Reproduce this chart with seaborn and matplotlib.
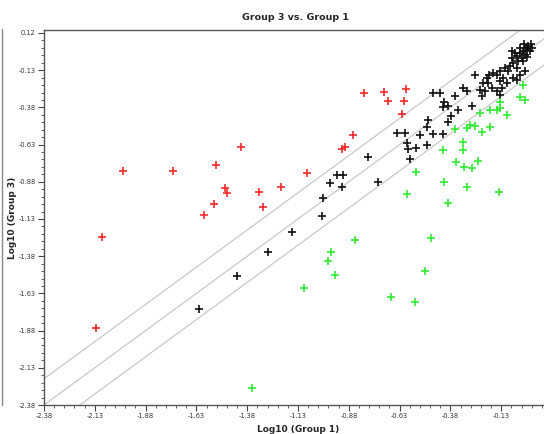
import numpy as np
import pandas as pd
import matplotlib
matplotlib.use("Agg")
import matplotlib.pyplot as plt
from matplotlib.lines import Line2D
from matplotlib.ticker import FixedLocator, MultipleLocator
import seaborn as sns

# ---- data (log10 values) ----
up_x = [-2.124, -2.095, -1.991, -1.745, -1.593, -1.543, -1.534, -1.489, -1.479, -1.411,
        -1.322, -1.302, -1.214, -1.086, -0.913, -0.899, -0.859, -0.805, -0.707, -0.599,
        -0.687, -0.608, -0.618]
up_y = [-1.863, -1.251, -0.807, -0.807, -1.103, -1.029, -0.767, -0.922, -0.955, -0.646,
        -0.949, -1.049, -0.915, -0.821, -0.660, -0.646, -0.565, -0.283, -0.277, -0.256,
        -0.337, -0.337, -0.424]

same_x = [-1.617, -1.430, -1.278, -1.160, -1.012, -1.007, -0.973, -0.938, -0.909, -0.913,
          -0.786, -0.736, -0.643, -0.603, -0.594, -0.589, -0.549, -0.579, -0.530, -0.495,
          -0.490, -0.495, -0.466, -0.416, -0.466, -0.431, -0.411, -0.416, -0.392, -0.377,
          -0.392, -0.343, -0.274, -0.357, -0.318, -0.298, -0.234, -0.210, -0.224, -0.136,
          -0.175, -0.151, -0.126, -0.220, -0.195, -0.136, -0.101, -0.259, -0.200, -0.190,
          -0.170, -0.151, -0.136, -0.121, -0.072, -0.052, -0.037, -0.013, -0.097, -0.111,
          -0.087, -0.052, -0.072, -0.047, -0.023, -0.077, -0.052, -0.028, -0.003, -0.013,
          -0.037, -0.023, -0.003, 0.002, 0.012, -0.077, 0.017, -0.008, -0.037, -0.062,
          0.022, -0.018]
same_y = [-1.735, -1.513, -1.352, -1.217, -1.110, -0.989, -0.888, -0.834, -0.834, -0.915,
          -0.713, -0.881, -0.552, -0.552, -0.619, -0.660, -0.653, -0.727, -0.565, -0.633,
          -0.465, -0.512, -0.559, -0.559, -0.283, -0.283, -0.344, -0.377, -0.371, -0.438,
          -0.478, -0.397, -0.371, -0.303, -0.250, -0.270, -0.263, -0.270, -0.303, -0.297,
          -0.250, -0.270, -0.250, -0.216, -0.216, -0.203, -0.216, -0.162, -0.182, -0.162,
          -0.149, -0.162, -0.135, -0.182, -0.182, -0.196, -0.162, -0.135, -0.135, -0.115,
          -0.102, -0.115, -0.082, -0.068, -0.068, -0.048, -0.035, -0.048, -0.041, -0.028,
          -0.014, -0.001, 0.006, 0.033, -0.001, -0.001, 0.046, 0.019, 0.019, -0.014,
          0.019, 0.046]

down_x = [-1.356, -1.100, -0.982, -0.968, -0.948, -0.849, -0.672, -0.554, -0.505, -0.475,
          -0.594, -0.549, -0.411, -0.392, -0.416, -0.318, -0.318, -0.352, -0.313, -0.274,
          -0.244, -0.298, -0.141, -0.357, -0.298, -0.284, -0.259, -0.224, -0.185, -0.234,
          -0.185, -0.151, -0.136, -0.136, -0.101, -0.013, -0.037, -0.023]
down_y = [-2.266, -1.594, -1.412, -1.352, -1.506, -1.271, -1.654, -1.688, -1.479, -1.258,
          -0.962, -0.814, -0.881, -1.022, -0.666, -0.613, -0.666, -0.747, -0.781, -0.787,
          -0.740, -0.915, -0.949, -0.525, -0.518, -0.498, -0.505, -0.545, -0.512, -0.418,
          -0.397, -0.397, -0.384, -0.344, -0.431, -0.330, -0.310, -0.229]

groups = ["up", "same", "down"]
colors = {"up": "#f22a2a", "same": "#111111", "down": "#33ea33"}
tick_values = [-2.38, -2.13, -1.88, -1.63, -1.38, -1.13, -0.88, -0.63, -0.38, -0.13, 0.12]
fold_offset = np.log10(1.5)

df = pd.DataFrame({
    "x": up_x + same_x + down_x,
    "y": up_y + same_y + down_y,
    "g": ["up"] * len(up_x) + ["same"] * len(same_x) + ["down"] * len(down_x),
})

sns.set_style("white")
plt.rcParams["font.family"] = ["DejaVu Sans"]

fig = plt.figure(figsize=(5.44, 4.34), dpi=100)
ax = fig.add_axes([44 / 544, 29 / 434, 508 / 544, 375 / 434])

for c in (fold_offset, 0.0, -fold_offset):
    ax.axline((0, c), slope=1, color="#c8c8c8", lw=0.9, zorder=1)

sns.scatterplot(data=df, x="x", y="y", hue="g", hue_order=groups, palette=colors,
                marker="+", s=32, linewidth=1.2, legend=False, ax=ax, zorder=3)

ax.set_xlim(-2.38, 0.12)
ax.set_ylim(-2.38, 0.14)
ax.xaxis.set_major_locator(FixedLocator(tick_values))
ax.yaxis.set_major_locator(FixedLocator(tick_values))
ax.xaxis.set_minor_locator(MultipleLocator(0.05, offset=0.02))
ax.yaxis.set_minor_locator(MultipleLocator(0.05, offset=0.02))
ax.set_xticklabels([f"{v:.2f}" for v in tick_values])
ax.set_yticklabels([f"{v:.2f}" for v in tick_values])
ax.tick_params(which="major", direction="out", length=4, width=0.8, color="#444444",
               labelsize=4.8, labelcolor="#333333", pad=2)
ax.tick_params(which="minor", direction="out", length=2, width=0.6, color="#444444")
ax.tick_params(axis="both", which="both", bottom=True, left=True, top=False, right=False)

for sp in ax.spines.values():
    sp.set_color("#555555")
    sp.set_linewidth(1.0)

ax.set_xlabel("Log10 (Group 1)", fontsize=6.5, fontweight="bold", labelpad=4)
ax.set_ylabel("Log10 (Group 3)", fontsize=6.5, fontweight="bold", labelpad=1)
fig.text(295 / 544, 1 - 18 / 434, "Group 3 vs. Group 1", ha="center", va="center",
         fontsize=6.8, fontweight="bold")

fig.add_artist(Line2D([1.5 / 544, 1.5 / 544], [1 - 29 / 434, 1 - 405 / 434],
                      transform=fig.transFigure, color="#888888", lw=1.0))

fig.savefig("out.png", dpi=100)
